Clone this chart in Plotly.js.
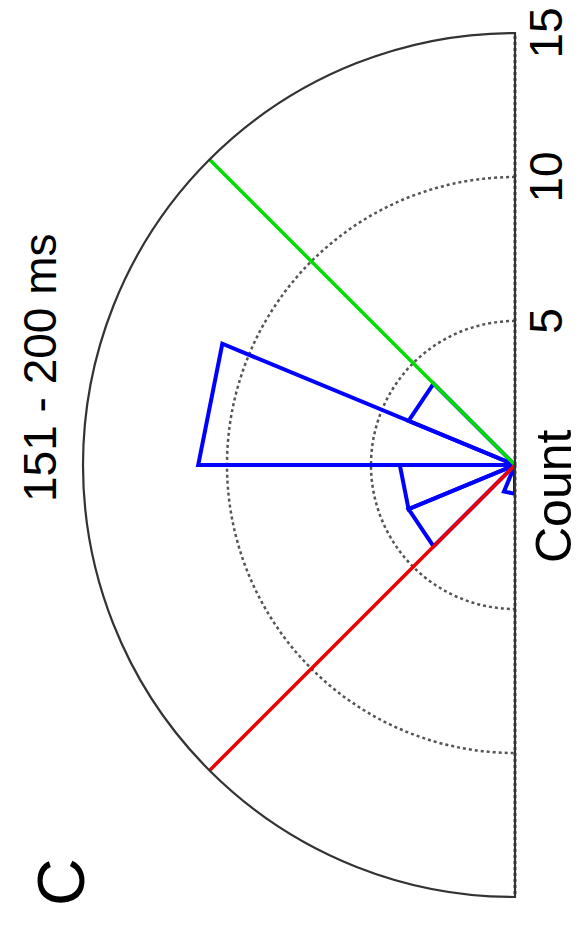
<!DOCTYPE html>
<html>
<head>
<meta charset="utf-8">
<script src="https://cdn.plot.ly/plotly-3.0.1.min.js"></script>
<style>html,body{margin:0;padding:0;background:#fff;}#chart{width:585px;height:932px;}</style>
</head>
<body>
<div id="chart"></div>
<script>
// Rose histogram bins (degrees, plot orientation) and counts
const binLo  = [135, 157.5, 180, 202.5, 247.5];
const binHi  = [157.5, 180, 202.5, 225, 270];
const counts = [4, 11, 4, 4, 1];
// Limit lines
const limitAngles = [135, 225];
const limitR = [15, 15];
const limitColors = ['#00dd00', '#ee0000'];
// Radial ticks
const radialTicks = [5, 10, 15];
const radialTickText = ['5', '10', '15'];
const titleText = '151 - 200 ms';
const axisLabel = 'Count';
const panelLabel = 'C';

const wr = [], wt = [];
for (let i = 0; i < counts.length; i++) {
  if (counts[i] <= 0) continue;
  wr.push(0, counts[i], counts[i], 0, null);
  wt.push(binLo[i], binLo[i], binHi[i], binHi[i], null);
}
const traces = [{
  type: 'scatterpolar', mode: 'lines', r: wr, theta: wt,
  line: {color: '#0000ff', width: 4}, connectgaps: false, hoverinfo: 'skip'
}];
limitAngles.forEach((a, i) => {
  traces.push({
    type: 'scatterpolar', mode: 'lines', r: [0, limitR[i]], theta: [a, a],
    line: {color: limitColors[i], width: 3.5}, hoverinfo: 'skip'
  });
});

const layout = {
  width: 585, height: 932,
  margin: {l: 0, r: 0, t: 0, b: 0},
  paper_bgcolor: '#ffffff', plot_bgcolor: '#ffffff',
  showlegend: false,
  font: {family: 'Liberation Sans, Arial, sans-serif', color: '#000'},
  polar: {
    domain: {x: [83/585, 515/585], y: [35/932, 899/932]},
    sector: [90, 270],
    bgcolor: '#ffffff',
    angularaxis: {
      rotation: 0, direction: 'counterclockwise',
      tickmode: 'array', tickvals: [90, 270],
      showticklabels: false, ticks: '',
      showgrid: true, gridcolor: '#555', griddash: 'dot', gridwidth: 3,
      showline: true, linecolor: '#333', linewidth: 2.2
    },
    radialaxis: {
      range: [0, 15], angle: 90, side: 'clockwise',
      tickmode: 'array', tickvals: radialTicks, ticktext: radialTickText,
      tickangle: 0, ticks: '',
      tickfont: {size: 46, color: '#000', family: 'Liberation Sans, Arial, sans-serif'},
      showgrid: true, gridcolor: '#555', griddash: 'dot', gridwidth: 2.5,
      showline: false
    }
  },
  annotations: [
    {text: titleText, xref: 'paper', yref: 'paper', x: 40/585, y: 1 - 368/932,
     textangle: -90, showarrow: false, xanchor: 'center', yanchor: 'middle',
     font: {size: 46, color: '#000'}},
    {text: axisLabel, xref: 'paper', yref: 'paper', x: 554/585, y: 1 - 496/932,
     textangle: -90, showarrow: false, xanchor: 'center', yanchor: 'middle',
     font: {size: 50, color: '#000'}},
    {text: panelLabel, xref: 'paper', yref: 'paper', x: 61/585, y: 1 - 882/932,
     textangle: -90, showarrow: false, xanchor: 'center', yanchor: 'middle',
     font: {size: 66, color: '#000'}}
  ]
};
Plotly.newPlot('chart', traces, layout, {displayModeBar: false, staticPlot: true});
</script>
</body>
</html>
